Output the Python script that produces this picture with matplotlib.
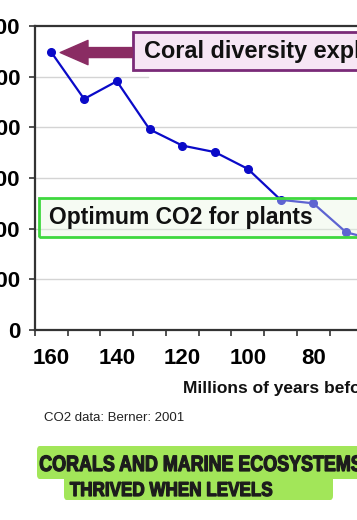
import matplotlib
matplotlib.use('Agg')
import matplotlib.pyplot as plt
from matplotlib.patches import Rectangle, FancyBboxPatch, PathPatch
from matplotlib.textpath import TextPath
from matplotlib.font_manager import FontProperties
from matplotlib.transforms import Affine2D

# CO2 (ppm), millions of years before present
years = [160, 150, 140, 130, 120, 110, 100, 90, 80, 70, 60]
co2 = [2740, 2280, 2455, 1980, 1820, 1755, 1590, 1285, 1250, 965, 880]

year_labels = [160, 140, 120, 100, 80]
co2_ticks = [0, 500, 1000, 1500, 2000, 2500, 3000]

W, H = 357, 520
FONT = ['Liberation Sans', 'DejaVu Sans']


def fx(px):
    return px / W


def fy(py):
    return 1 - py / H


def squeezed_text(fig, s, left, right, base, cap_h):
    # condensed heavy caption: scale a text path to the width seen in the picture
    tp = TextPath((0, 0), s, size=100,
                  prop=FontProperties(family='Liberation Sans', weight='bold'))
    ext = tp.get_extents()
    sx = (right - left) / ext.width
    sy = cap_h / 72.0
    tr = Affine2D().translate(-ext.x0, 0).scale(sx, sy).translate(left, H - base)
    fig.patches.append(PathPatch(tp, transform=tr, facecolor='#1c1c1c',
                                 edgecolor='#1c1c1c', lw=0.9))


def main():
    plt.rcParams['font.family'] = FONT
    fig = plt.figure(figsize=(W / 100, H / 100), dpi=100)
    fig.patch.set_facecolor('white')

    ax = fig.add_axes([fx(35), fy(330), fx(357 - 35), (330 - 26) / H])
    ax.set_xlim(165, 66.65)
    ax.set_ylim(0, 3000)

    for s in ['top', 'left', 'bottom']:
        ax.spines[s].set_color('#333333')
        ax.spines[s].set_linewidth(1.6)
    ax.spines['right'].set_visible(False)

    # grid lines (the 2500 one is partly hidden in the original)
    for v in co2_ticks[1:-1]:
        if v == 2500:
            ax.axhline(v, xmax=(148 - 35) / 322, color='#d4d4d4', lw=1, zorder=0)
        else:
            ax.axhline(v, color='#d4d4d4', lw=1, zorder=0)

    ax.set_yticks(co2_ticks)
    ax.set_yticklabels([str(v) for v in co2_ticks])
    ax.tick_params(axis='y', direction='out', length=4.5, width=1.2,
                   color='#333333', labelsize=16, pad=6)
    for t in ax.get_yticklabels():
        t.set_fontweight('bold')

    ax.set_xticks(list(range(165, 66, -10)))
    ax.set_xticklabels([])
    ax.set_xticks(year_labels, minor=True)
    ax.set_xticklabels([str(v) for v in year_labels], minor=True,
                       fontsize=16, fontweight='bold')
    ax.tick_params(axis='x', which='major', direction='out', length=4.5,
                   width=1.2, color='#333333')
    ax.tick_params(axis='x', which='minor', length=0, pad=13)

    ax.plot(years, co2, color='#0a0ac8', lw=1.6, marker='o', ms=5.5, zorder=3)

    # optimum box
    ax.add_patch(Rectangle((163.8, 916), -120, 386, facecolor='#e8f7e2',
                           alpha=0.38, edgecolor='none', zorder=4))
    ax.add_patch(Rectangle((163.8, 916), -120, 386, facecolor='none',
                           edgecolor='#3fd83f', lw=2, zorder=5))
    ax.text(160.6, 1109, 'Optimum CO2 for plants', fontsize=16.5,
            fontweight='bold', va='center', ha='left', color='#111111', zorder=6)

    # coral box and arrow
    ax.add_patch(Rectangle((135.0, 2570), -120, 369, facecolor='#f6e6f4',
                           edgecolor='#7a2a78', lw=2, zorder=5))
    ax.text(131.7, 2745, 'Coral diversity explodes', fontsize=16.9,
            fontweight='bold', va='center', ha='left', color='#111111', zorder=6)
    ax.annotate('', xy=(157.3, 2738), xytext=(135.3, 2738),
                arrowprops=dict(arrowstyle='simple,head_length=2.0,head_width=1.75,tail_width=0.72',
                                color='#8a2c63', shrinkA=0, shrinkB=0,
                                mutation_scale=10), zorder=6)

    fig.text(fx(183), fy(388), 'Millions of years before present', fontsize=12.5,
             fontweight='bold', va='center', ha='left', color='#111111')
    fig.text(fx(44), fy(418), 'CO2 data: Berner: 2001', fontsize=9.5,
             va='center', ha='left', color='#222222')

    # caption banner
    green = '#a2e659'
    fig.patches.append(FancyBboxPatch((fx(37), fy(479)), fx(340), (479 - 446) / H,
                                      boxstyle='round,pad=0,rounding_size=0.008',
                                      transform=fig.transFigure, facecolor=green,
                                      edgecolor='none'))
    fig.patches.append(FancyBboxPatch((fx(64), fy(500)), fx(333 - 64), (500 - 472) / H,
                                      boxstyle='round,pad=0,rounding_size=0.008',
                                      transform=fig.transFigure, facecolor=green,
                                      edgecolor='none'))
    squeezed_text(fig, 'CORALS AND MARINE ECOSYSTEMS', 40, 362, 471, 16)
    squeezed_text(fig, 'THRIVED WHEN LEVELS', 70, 272, 496, 14.5)

    fig.savefig('out.png', dpi=100)


if __name__ == '__main__':
    main()
